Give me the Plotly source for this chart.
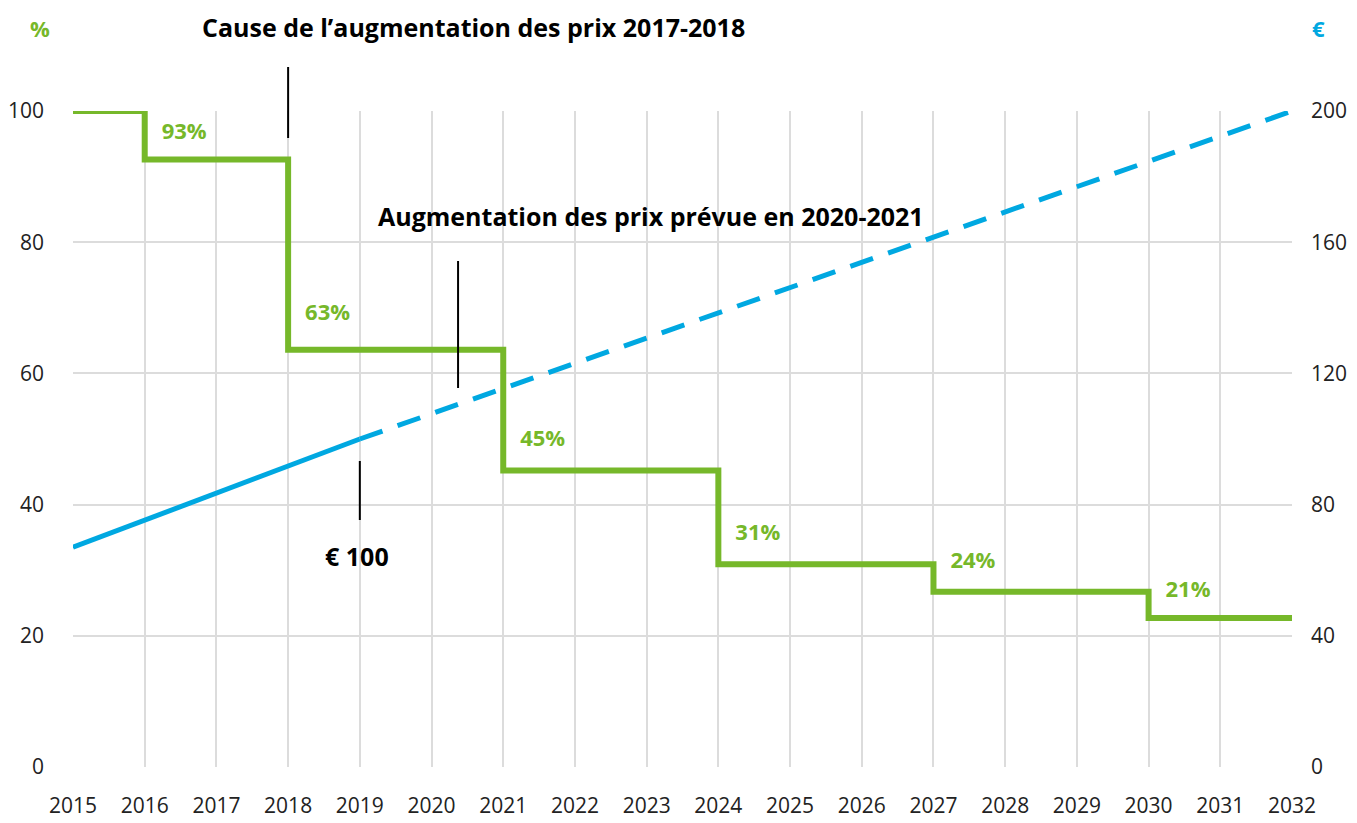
import plotly.graph_objects as go

years = list(range(2015, 2033))
share_x = [2015, 2016, 2018, 2021, 2024, 2027, 2030, 2032]
share_y = [100, 92.6, 63.6, 45.2, 30.9, 26.7, 22.7, 22.7]
share_labels = ["93%", "63%", "45%", "31%", "24%", "21%"]
share_label_x = [2016.55, 2018.55, 2021.55, 2024.55, 2027.55, 2030.55]
share_label_y = [96.6, 69.0, 49.8, 35.5, 31.1, 26.8]

price_x_actual = [2015, 2019]
price_y_actual = [67, 100]
price_x_forecast = [2019, 2032]
price_y_forecast = [100, 200]

GREEN = "#76b82a"
BLUE = "#00a8e1"
FONT = "Open Sans"
X0, X1 = 2015, 2032
PLOT_W, PLOT_H = 1219, 656


def px(x):
    return (x - X0) / (X1 - X0)


def py(pix):
    # pixel row in the page -> paper y
    return (767 - pix) / PLOT_H


fig = go.Figure()
fig.add_trace(go.Scatter(x=price_x_actual, y=price_y_actual, yaxis="y2", mode="lines",
                         line=dict(color=BLUE, width=5), showlegend=False, hoverinfo="skip"))
fig.add_trace(go.Scatter(x=price_x_forecast, y=price_y_forecast, yaxis="y2", mode="lines",
                         line=dict(color=BLUE, width=5, dash="24px,16px"), showlegend=False, hoverinfo="skip"))
fig.add_trace(go.Scatter(x=share_x, y=share_y, mode="lines", line_shape="hv",
                         line=dict(color=GREEN, width=6), showlegend=False, hoverinfo="skip"))
fig.add_trace(go.Scatter(x=share_label_x, y=share_label_y, mode="text", text=share_labels,
                         textfont=dict(color=GREEN, size=22, family=FONT, weight="bold"),
                         textposition="middle center", showlegend=False, hoverinfo="skip",
                         cliponaxis=False))

# marker lines (paper coordinates: y paper 1.0 == 100 %)
line_style = dict(color="black", width=2)
fig.add_shape(type="line", xref="paper", yref="paper", x0=px(2018), x1=px(2018), y0=py(138), y1=py(67),
              line=line_style)
fig.add_shape(type="line", xref="paper", yref="paper", x0=px(2020.37), x1=px(2020.37), y0=py(388), y1=py(261),
              line=line_style)
fig.add_shape(type="line", xref="paper", yref="paper", x0=px(2019), x1=px(2019), y0=py(520), y1=py(461),
              line=line_style)

bold = dict(size=25, color="black", family=FONT, weight="bold")
ann = dict(xref="paper", yref="paper", showarrow=False, xanchor="center", yanchor="middle")
fig.add_annotation(x=473 / 1357 * 0 + (473 - 73) / PLOT_W, y=py(27),
                   text="Cause de l’augmentation des prix 2017-2018", font=bold, **ann)
fig.add_annotation(x=(651 - 73) / PLOT_W, y=py(216),
                   text="Augmentation des prix prévue en 2020-2021", font=bold, **ann)
fig.add_annotation(x=(357 - 73) / PLOT_W, y=py(556), text="€ 100", font=bold, **ann)
fig.add_annotation(x=(40 - 73) / PLOT_W, y=py(28), text="%",
                   font=dict(size=22, color=GREEN, family=FONT, weight="bold"), **ann)
fig.add_annotation(x=(1318 - 73) / PLOT_W, y=py(28), text="€",
                   font=dict(size=22, color=BLUE, family=FONT, weight="bold"), **ann)

fig.update_layout(
    width=1357, height=823,
    margin=dict(l=73, r=65, t=111, b=56, autoexpand=False),
    plot_bgcolor="white", paper_bgcolor="white",
    font=dict(family=FONT, size=21, color="#222"),
    xaxis=dict(range=[X0, X1], tickmode="array", tickvals=years, ticktext=[str(y) for y in years],
               showgrid=True, gridcolor="#dcdcdc", gridwidth=1.5, zeroline=False, automargin=False,
               ticks="", ticklabelstandoff=24, showline=False),
    yaxis=dict(range=[0, 100], tickvals=[0, 20, 40, 60, 80, 100], showgrid=True, automargin=False,
               gridcolor="#dcdcdc", gridwidth=1.5, zeroline=False, ticks="", ticklabelstandoff=28),
    yaxis2=dict(range=[0, 200], tickvals=[0, 40, 80, 120, 160, 200], overlaying="y", side="right",
                showgrid=False, zeroline=False, ticks="", ticklabelstandoff=18, automargin=False),
)
fig.update_shapes(layer="above")

fig.write_html("out.html")
